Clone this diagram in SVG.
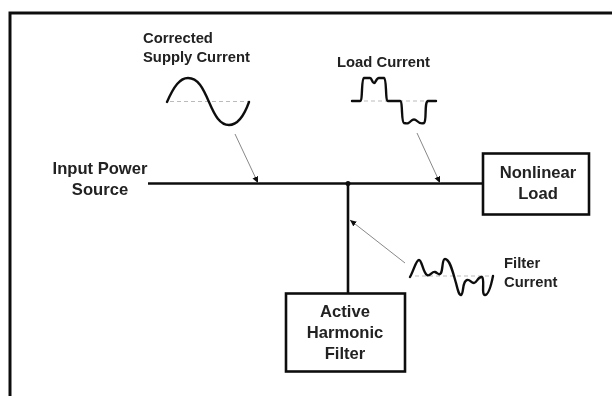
<svg xmlns="http://www.w3.org/2000/svg" width="612" height="396" viewBox="0 0 612 396">
<style>
text{font-family:"Liberation Sans",Arial,sans-serif;font-weight:bold;fill:#222}
.s{font-size:14.8px}
.n{font-size:16.6px;text-anchor:middle}
.box{fill:#fff;stroke:#111;stroke-width:2.6}
.wire{fill:none;stroke:#111;stroke-width:2.6}
.wave{fill:none;stroke:#111;stroke-width:2.4;stroke-linejoin:round;stroke-linecap:round}
.base{fill:none;stroke:#bbb;stroke-width:1;stroke-dasharray:4 3}
.lead{fill:none;stroke:#888;stroke-width:1;marker-end:url(#a)}
</style>
<defs>
<marker id="a" markerUnits="userSpaceOnUse" markerWidth="8" markerHeight="8" refX="6.5" refY="3" orient="auto"><path d="M0 0L6.5 3L0 6Z" fill="#111"/></marker>
<filter id="soft" x="0" y="0" width="100%" height="100%" filterUnits="objectBoundingBox"><feGaussianBlur stdDeviation="0.45"/></filter>
</defs>
<rect width="612" height="396" fill="#fff"/>
<g filter="url(#soft)">
<rect width="612" height="396" fill="#fff"/>
<path d="M10 396V13H612" fill="none" stroke="#111" stroke-width="3"/>
<g id="connectors">
<path class="wire" d="M148 183.500H484M348 183.500V293"/>
<circle cx="348" cy="183.500" r="2.500" fill="#111"/>
<path class="lead" d="M235 134L258 183"/>
<path class="lead" d="M417 133L440 183"/>
<path class="lead" d="M405 263L350 220"/>
</g>
<g id="source"><text class="n" x="100" y="174">Input Power</text><text class="n" x="100" y="195">Source</text></g>
<g id="load"><rect class="box" x="483" y="153.500" width="106" height="61"/><text class="n" x="538" y="178">Nonlinear</text><text class="n" x="538" y="199">Load</text></g>
<g id="filter"><rect class="box" x="286" y="293.500" width="119" height="78"/><text class="n" x="345" y="317">Active</text><text class="n" x="345" y="338">Harmonic</text><text class="n" x="345" y="359">Filter</text></g>
<g id="supply"><text class="s" x="143" y="43">Corrected</text><text class="s" x="143" y="62">Supply Current</text>
<path class="base" d="M170 101.500H248"/><path class="wave" d="M167 102C174 86 180 78 188 78C198 78 203 88 209 102C215 116 220 125 229 125C238 125 244 116 249 102"/></g>
<g id="loadcurrent"><text class="s" x="337" y="67">Load Current</text>
<path class="base" d="M364 101H426"/><path class="wave" d="M352 101H360C363 101 361 79 364 78H370C372 78 372 83 374 83C376 83 376 78 379 78H384C387 79 385 101 388 101H400C403 101 401 122 404 123C408 124 409 123 411 121C413 119 415 119 417 121C419 123 421 124 424 123C427 121 424 102 428 101H436"/></g>
<g id="filtercurrent"><text class="s" x="504" y="268">Filter</text><text class="s" x="504" y="287">Current</text>
<path class="base" d="M415 276H490"/><path class="wave" d="M410 277C414 270 416 260 419 260C422 260 423 273 427 275C430 277 432 271 435 272C438 273 439 276 441 273C443 269 442 259 445 259C450 259 453 273 456 283C458 291 459 295 461 295C464 294 462 281 467 280C470 279 471 283 474 283C477 283 478 276 482 277C485 279 481 295 485 295C488 295 491 286 493 276"/></g>
</g>
</svg>
